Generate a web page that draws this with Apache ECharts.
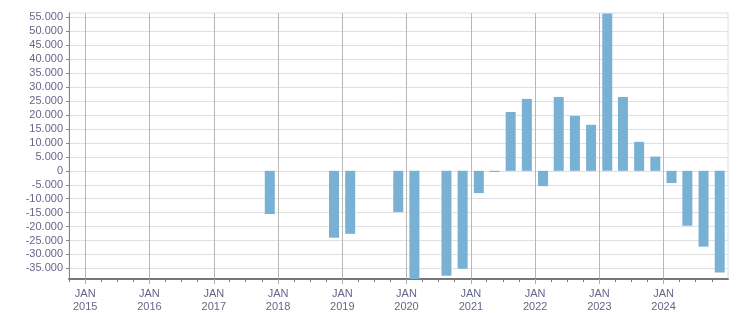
<!DOCTYPE html>
<html>
<head>
<meta charset="utf-8">
<script src="https://cdn.jsdelivr.net/npm/echarts@6/dist/echarts.min.js"></script>
<style>
html,body{margin:0;padding:0;background:#fff;}
#chart{width:751px;height:313px;}
</style>
</head>
<body>
<div id="chart"></div>
<script>
// Quarter mid-point dates of each bar
const periods = ['2017-11-15','2018-11-15','2019-02-15','2019-11-15','2020-02-15','2020-08-15','2020-11-15',
  '2021-02-15','2021-05-15','2021-08-15','2021-11-15','2022-02-15','2022-05-15','2022-08-15','2022-11-15',
  '2023-02-15','2023-05-15','2023-08-15','2023-11-15','2024-02-15','2024-05-15','2024-08-15','2024-11-15'];
const values = [-15500,-24000,-22600,-14800,-38800,-37600,-35100,
  -8000,-400,21100,25800,-5500,26500,19700,16500,
  56400,26500,10400,5100,-4400,-19700,-27200,-36500];
// Axis ticks
const yearTicks = [2015,2016,2017,2018,2019,2020,2021,2022,2023,2024];
const yTicks = [-35000,-30000,-25000,-20000,-15000,-10000,-5000,0,5000,10000,15000,20000,25000,30000,35000,40000,45000,50000,55000];
const xStart = '2014-10-01';
const xEnd = '2025-01-01';
const yMin = -38800;
const yMax = 56600;

const ts = s => new Date(s + 'T00:00:00Z').getTime();
const janTicks = yearTicks.map(y => Date.UTC(y, 0, 1));
const quarterTicks = [];
for (let y = 2014; y <= 2024; y++) {
  for (let m = 0; m < 12; m += 3) {
    const t = Date.UTC(y, m, 1);
    if (t >= ts(xStart) && t <= ts(xEnd) && m !== 0) quarterTicks.push(t);
  }
}
const fmt = v => {
  const s = Math.abs(v).toString().replace(/\B(?=(\d{3})+(?!\d))/g, '.');
  return (v < 0 ? '-' : '') + s;
};
const labelColor = '#66668a';
const font = 'Liberation Sans';

const chart = echarts.init(document.getElementById('chart'));
chart.setOption({
  animation: false,
  grid: { left: 69, right: 23, top: 13, bottom: 31, show: true, borderColor: '#dedede', borderWidth: 1, backgroundColor: 'transparent' },
  xAxis: [{
    type: 'value',
    min: ts(xStart), max: ts(xEnd),
    axisLine: { show: true, onZero: false, lineStyle: { color: '#777', width: 2 } },
    axisTick: { show: true, length: 5, customValues: janTicks, lineStyle: { color: '#aaa' } },
    axisLabel: {
      customValues: janTicks, color: labelColor, fontFamily: font, fontSize: 11, lineHeight: 13, margin: 8,
      formatter: v => 'JAN\n' + new Date(v).getUTCFullYear()
    },
    splitLine: { show: true, lineStyle: { color: '#b8b8b8', width: 1 } }
  }, {
    type: 'value',
    position: 'bottom',
    min: ts(xStart), max: ts(xEnd),
    axisLine: { show: false, onZero: false },
    axisTick: { show: true, length: 3, customValues: quarterTicks, lineStyle: { color: '#777' } },
    axisLabel: { show: false },
    splitLine: { show: false }
  }],
  yAxis: {
    type: 'value',
    min: yMin, max: yMax,
    axisLine: { show: true, onZero: false, lineStyle: { color: '#888' } },
    axisTick: { show: true, length: 3, customValues: yTicks, lineStyle: { color: '#888' } },
    axisLabel: { customValues: yTicks, color: labelColor, fontFamily: font, fontSize: 11, margin: 6, formatter: fmt },
    splitLine: { show: true, lineStyle: { color: '#e0e0e0' } }
  },
  series: [{
    type: 'bar',
    xAxisIndex: 0,
    barWidth: 10,
    itemStyle: { color: '#79b1d4' },
    data: periods.map((p, i) => [ts(p), values[i]])
  }]
});
</script>
</body>
</html>
